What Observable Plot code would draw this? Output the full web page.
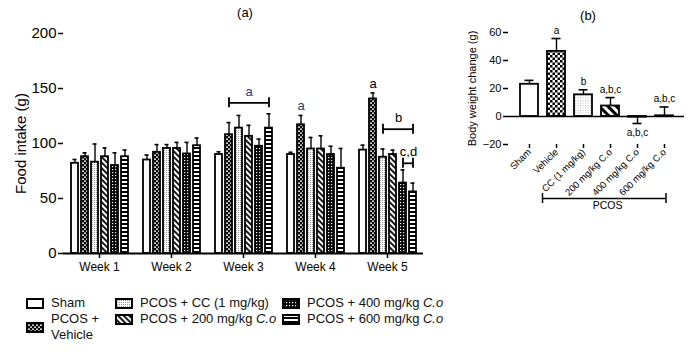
<!DOCTYPE html>
<html>
<head>
<meta charset="utf-8">
<script src="https://cdn.jsdelivr.net/npm/d3@7"></script>
<script src="https://cdn.jsdelivr.net/npm/@observablehq/plot@0.6"></script>
<style>
  body { margin: 0; background: #fff; font-family: "Liberation Sans", Arial, sans-serif; }
  #wrap { position: relative; width: 696px; height: 354px; overflow: hidden; background: #fff; }
  .abs { position: absolute; }
  .title { font-size: 13px; transform: translate(-50%, -50%); color: #000; }
  .leg { position: absolute; font-size: 13px; line-height: 15.5px; color: #111; white-space: nowrap; }
  .sw { position: absolute; }
</style>
</head>
<body>
<!-- fill patterns shared by both panels and the legend -->
<svg width="0" height="0" style="position:absolute">
  <defs>
    <pattern id="a-veh" patternUnits="userSpaceOnUse" width="4" height="4">
      <rect width="4" height="4" fill="#000"/>
      <rect x="0" y="0.5" width="2" height="1.3" fill="#fff"/>
      <rect x="2" y="2.5" width="2" height="1.3" fill="#fff"/>
    </pattern>
    <pattern id="a-cc" patternUnits="userSpaceOnUse" width="2" height="2">
      <rect width="2" height="2" fill="#fff"/>
      <rect width="1" height="1" fill="#9a9a9a"/>
    </pattern>
    <pattern id="a-200" patternUnits="userSpaceOnUse" width="4" height="4" patternTransform="rotate(-45)">
      <rect width="4" height="4" fill="#fff"/>
      <rect width="1.8" height="4" fill="#000"/>
    </pattern>
    <pattern id="a-400" patternUnits="userSpaceOnUse" width="3" height="3">
      <rect width="3" height="3" fill="#000"/>
      <rect x="1" y="1" width="1.2" height="1.2" fill="#fff"/>
    </pattern>
    <pattern id="a-600" patternUnits="userSpaceOnUse" width="4" height="4">
      <rect width="4" height="4" fill="#000"/>
      <rect y="1" width="4" height="2" fill="#fff"/>
    </pattern>
    <pattern id="b-veh" patternUnits="userSpaceOnUse" width="5" height="5">
      <rect width="5" height="5" fill="#fff"/>
      <rect width="2.5" height="2.5" fill="#000"/>
      <rect x="2.5" y="2.5" width="2.5" height="2.5" fill="#000"/>
    </pattern>
    <pattern id="b-cc" patternUnits="userSpaceOnUse" width="2.5" height="2.5">
      <rect width="2.5" height="2.5" fill="#fff"/>
      <rect width="1" height="1" fill="#b5b5b5"/>
    </pattern>
    <pattern id="b-200" patternUnits="userSpaceOnUse" width="6" height="6" patternTransform="rotate(-45)">
      <rect width="6" height="6" fill="#fff"/>
      <rect width="3" height="6" fill="#000"/>
    </pattern>
  </defs>
</svg>

<div id="wrap"></div>

<script>
// ---------- (a) weekly food intake ----------
const weeks = ["Week 1", "Week 2", "Week 3", "Week 4", "Week 5"];
const groups = ["Sham", "Vehicle", "CC", "Co200", "Co400", "Co600"];

const shamMean    = [82, 85, 90, 90, 94];
const vehicleMean = [88, 92, 108, 117, 140.5];
const ccMean      = [83, 95.5, 114, 95, 87.5];
const co200Mean   = [88, 95.5, 106.5, 95, 90];
const co400Mean   = [80, 90.5, 97.5, 90, 64];
const co600Mean   = [88, 98, 114, 77.5, 56];

const shamSem    = [3.5, 4.5, 2.5, 2, 4.5];
const vehicleSem = [3.5, 7, 11, 8.5, 5.5];
const ccSem      = [16.5, 3.5, 11.5, 10.5, 7.5];
const co200Sem   = [8, 5.5, 10, 12, 4];
const co400Sem   = [11.5, 10.5, 6.5, 7.5, 12];
const co600Sem   = [6, 7, 13, 18, 8];

// significance letters over single bars
const barLetters = [
  {week: "Week 4", group: "Vehicle", text: "a", color: "#1d3b6f"},
  {week: "Week 5", group: "Vehicle", text: "a", color: "#000"}
];
// significance brackets spanning several bars
const brackets = [
  {week: "Week 3", from: "Vehicle", to: "Co600", level: 137, text: "a", color: "#1d3b6f"},
  {week: "Week 5", from: "CC", to: "Co600", level: 113, text: "b", color: "#000"},
  {week: "Week 5", from: "Co400", to: "Co600", level: 82, text: "c,d", color: "#000"}
];

const seriesMeans = [shamMean, vehicleMean, ccMean, co200Mean, co400Mean, co600Mean];
const seriesSems = [shamSem, vehicleSem, ccSem, co200Sem, co400Sem, co600Sem];
const fillA = {Sham: "#fff", Vehicle: "url(#a-veh)", CC: "url(#a-cc)", Co200: "url(#a-200)", Co400: "url(#a-400)", Co600: "url(#a-600)"};

const intake = [];
weeks.forEach((w, i) => groups.forEach((g, j) => {
  intake.push({week: w, group: g, mean: seriesMeans[j][i], sem: seriesSems[j][i]});
}));
const errTop = (w, g) => { const r = intake.find(d => d.week === w && d.group === g); return r.mean + r.sem; };

const A = {width: 440, height: 290, ml: 63, mr: 17, mt: 33, mb: 37, padIn: 0.35, padOut: 0.45};
const facetW = (A.width - A.ml - A.mr) / weeks.length;
const stepA = facetW / (groups.length - A.padIn + 2 * A.padOut);

// bracket label placed midway between the bracket ends
const bracketLabels = brackets.map(b => {
  const mid = (groups.indexOf(b.from) + groups.indexOf(b.to)) / 2;
  return {...b, at: groups[Math.floor(mid)], shift: (mid % 1) * stepA};
});

const font = "Liberation Sans, Arial, sans-serif";

const chartA = Plot.plot({
  width: A.width, height: A.height,
  marginLeft: A.ml, marginRight: A.mr, marginTop: A.mt, marginBottom: A.mb,
  style: {fontFamily: font, background: "transparent", color: "#000", overflow: "visible"},
  fx: {domain: weeks, padding: 0},
  x: {domain: groups, paddingInner: A.padIn, paddingOuter: A.padOut, axis: null},
  y: {domain: [0, 200]},
  color: {type: "identity"},
  marks: [
    Plot.ruleX(intake, {fx: "week", x: "group", y1: "mean", y2: d => d.mean + d.sem, strokeWidth: 1.4}),
    Plot.tickY(intake, {fx: "week", x: "group", y: d => d.mean + d.sem, insetLeft: 1.5, insetRight: 1.5, strokeWidth: 1.6}),
    Plot.barY(intake, {fx: "week", x: "group", y: "mean", fill: d => fillA[d.group], stroke: "#000", strokeWidth: 1.8}),
    Plot.ruleY([0], {strokeWidth: 1.8}),
    Plot.axisY({ticks: [0, 50, 100, 150, 200], tickSize: 5, tickPadding: 2, fontSize: 15, strokeWidth: 1.5, line: true,
      label: "Food intake (g)", labelAnchor: "center", labelOffset: 48, labelArrow: "none"}),
    Plot.axisFx({anchor: "bottom", tickSize: 5, tickPadding: 4, fontSize: 12, strokeWidth: 1.5, label: null}),
    // brackets
    Plot.link(brackets, {fx: "week", x1: "from", x2: "to", y1: "level", y2: "level", strokeWidth: 1.8}),
    Plot.ruleX(brackets, {fx: "week", x: "from", y1: "level", y2: "level", insetTop: -5, insetBottom: -5, strokeWidth: 1.8}),
    Plot.ruleX(brackets, {fx: "week", x: "to", y1: "level", y2: "level", insetTop: -5, insetBottom: -5, strokeWidth: 1.8}),
    ...bracketLabels.map(b => Plot.text([b], {fx: "week", x: "at", y: "level", text: "text", dx: b.shift, dy: -11,
      lineAnchor: "middle", fontSize: 13, fill: b.color})),
    Plot.text(barLetters, {fx: "week", x: "group", y: d => errTop(d.week, d.group), text: "text", fill: "color",
      dy: -5, lineAnchor: "bottom", fontSize: 13})
  ]
});

// ---------- (b) body weight change ----------
const bwGroups = ["Sham", "Vehicle", "CC (1 mg/kg)", "200 mg/kg C.o", "400 mg/kg C.o", "600 mg/kg C.o"];
const bwMean = [23, 46.5, 15.5, 7.5, -0.5, 0.5];
const bwSem = [2.8, 9.2, 3.6, 6, 4.5, 6.3];
const bwLetters = ["", "a", "b", "a,b,c", "a,b,c", "a,b,c"];
const pcosGroup = {first: bwGroups[1], last: bwGroups[5], mid: bwGroups[3], level: -58.6, text: "PCOS"};

const fillB = ["#fff", "url(#b-veh)", "url(#b-cc)", "url(#b-200)", "#fff", "#fff"];
const bw = bwGroups.map((g, i) => ({
  group: g, mean: bwMean[i], sem: bwSem[i], letter: bwLetters[i], fill: fillB[i],
  tip: bwMean[i] + (bwMean[i] < 0 ? -bwSem[i] : bwSem[i])
}));

const chartB = Plot.plot({
  width: 256, height: 225,
  marginLeft: 68, marginRight: 12, marginTop: 32, marginBottom: 81,
  style: {fontFamily: font, background: "transparent", color: "#000", overflow: "visible"},
  x: {domain: bwGroups, paddingInner: 0.35, paddingOuter: 0.34},
  y: {domain: [-20, 60]},
  color: {type: "identity"},
  marks: [
    Plot.ruleX(bw, {x: "group", y1: "mean", y2: "tip", strokeWidth: 1.4}),
    Plot.tickY(bw, {x: "group", y: "tip", insetLeft: 4.5, insetRight: 4.5, strokeWidth: 1.6}),
    Plot.barY(bw, {x: "group", y: "mean", fill: "fill", stroke: "#000", strokeWidth: 1.8}),
    Plot.ruleY([0], {strokeWidth: 1.5}),
    Plot.axisY({ticks: [-20, 0, 20, 40, 60], tickSize: 5, tickPadding: 2, fontSize: 11, strokeWidth: 1.5, line: true,
      label: "Body weight change (g)", labelAnchor: "center", labelOffset: 40, labelArrow: "none"}),
    Plot.axisX({anchor: "bottom", tickSize: 4, tickPadding: 2, tickRotate: -45, fontSize: 9.5, strokeWidth: 1.5, line: true, label: null}),
    Plot.text(bw.filter(d => d.letter && d.mean >= 0), {x: "group", y: "tip", text: "letter", dy: -5, lineAnchor: "bottom", fontSize: 10}),
    Plot.text(bw.filter(d => d.letter && d.mean < 0), {x: "group", y: "tip", text: "letter", dy: 5, lineAnchor: "top", fontSize: 10}),
    // PCOS grouping bracket below the axis labels
    Plot.ruleY([pcosGroup], {x1: "first", x2: "last", y: "level", insetLeft: -5, insetRight: 8, strokeWidth: 1.5}),
    Plot.ruleX([pcosGroup], {x: "first", y1: "level", y2: "level", insetTop: -5, insetBottom: -5, dx: -14, strokeWidth: 1.5}),
    Plot.ruleX([pcosGroup], {x: "last", y1: "level", y2: "level", insetTop: -5, insetBottom: -5, dx: 1.5, strokeWidth: 1.5}),
    Plot.text([pcosGroup], {x: "mid", y: "level", text: "text", dy: 3, dx: -3, lineAnchor: "top", fontSize: 10.5})
  ]
});

// ---------- layout ----------
const wrap = document.getElementById("wrap");
chartA.classList.add("abs"); chartA.style.left = "0px"; chartA.style.top = "0px";
chartB.classList.add("abs"); chartB.style.left = "440px"; chartB.style.top = "0px";
wrap.appendChild(chartA);
wrap.appendChild(chartB);

function addTitle(text, x, y) {
  const t = document.createElement("div");
  t.className = "abs title"; t.textContent = text;
  t.style.left = x + "px"; t.style.top = y + "px";
  wrap.appendChild(t);
}
addTitle("(a)", 245, 12);
addTitle("(b)", 588, 15);

// legend for panel (a)
const legendItems = [
  {html: "Sham", fill: "#fff"},
  {html: "PCOS +<br>Vehicle", fill: "url(#a-veh)"},
  {html: "PCOS + CC (1 mg/kg)", fill: "url(#a-cc)"},
  {html: "PCOS + 200 mg/kg <i>C.o</i>", fill: "url(#a-200)"},
  {html: "PCOS + 400 mg/kg <i>C.o</i>", fill: "url(#a-400)"},
  {html: "PCOS + 600 mg/kg <i>C.o</i>", fill: "url(#a-600)"}
];
const legCols = [26, 115, 282];
const legRows = [295, 311];
legendItems.forEach((it, k) => {
  const col = Math.floor(k / 2), row = k % 2;
  const lines = it.html.split("<br>").length;
  const sw = document.createElementNS("http://www.w3.org/2000/svg", "svg");
  sw.setAttribute("width", 18); sw.setAttribute("height", 11);
  sw.setAttribute("class", "sw");
  sw.style.left = legCols[col] + "px";
  sw.style.top = (legRows[row] + 3 + (lines - 1) * 7.75) + "px";
  sw.innerHTML = `<rect x="1" y="1" width="16" height="9" fill="${it.fill}" stroke="#000" stroke-width="2"/>`;
  wrap.appendChild(sw);
  const t = document.createElement("div");
  t.className = "leg"; t.innerHTML = it.html;
  t.style.left = (legCols[col] + 25) + "px";
  t.style.top = legRows[row] + "px";
  wrap.appendChild(t);
});
</script>
</body>
</html>
